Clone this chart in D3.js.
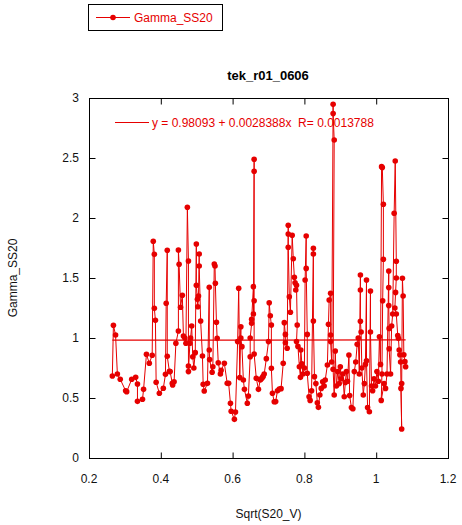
<!DOCTYPE html>
<html>
<head>
<meta charset="utf-8">
<script src="https://cdn.jsdelivr.net/npm/d3@7"></script>
<style>
  body { margin: 0; background: #fff; }
  svg { display: block; font-family: "Liberation Sans", Arial, sans-serif; }
</style>
</head>
<body>
<div id="chart"></div>
<script>
//~~~~~~~~~~~~~~~~~~~~~~~~~~~~~~~~~~~~
// Data (in plotting order)
//~~~~~~~~~~~~~~~~~~~~~~~~~~~~~~~~~~~~
const seriesName = "Gamma_SS20";
const chartTitle = "tek_r01_0606";
const xLabel = "Sqrt(S20_V)";
const yLabel = "Gamma_SS20";

const xValues = [
  0.265, 0.268, 0.274, 0.279, 0.287, 0.302, 0.305, 0.319, 0.330, 0.335,
  0.335, 0.349, 0.352, 0.360, 0.368, 0.376, 0.379, 0.382, 0.382, 0.385,
  0.387, 0.396, 0.407, 0.413, 0.415, 0.418, 0.418, 0.424, 0.426, 0.432,
  0.433, 0.437, 0.442, 0.449, 0.449, 0.451, 0.455, 0.460, 0.463, 0.467,
  0.470, 0.474, 0.477, 0.477, 0.477, 0.481, 0.483, 0.486, 0.489, 0.492,
  0.496, 0.499, 0.499, 0.502, 0.503, 0.505, 0.507, 0.507, 0.511, 0.516,
  0.518, 0.521, 0.530, 0.535, 0.535, 0.536, 0.543, 0.545, 0.549, 0.551,
  0.552, 0.555, 0.557, 0.560, 0.566, 0.568, 0.577, 0.585, 0.589, 0.594,
  0.596, 0.605, 0.608, 0.614, 0.617, 0.620, 0.623, 0.623, 0.626, 0.630,
  0.633, 0.641, 0.644, 0.649, 0.649, 0.653, 0.653, 0.658, 0.658, 0.660,
  0.660, 0.660, 0.660, 0.666, 0.672, 0.677, 0.680, 0.683, 0.685, 0.688,
  0.694, 0.700, 0.702, 0.705, 0.708, 0.708, 0.711, 0.716, 0.720, 0.725,
  0.730, 0.735, 0.741, 0.744, 0.747, 0.747, 0.752, 0.755, 0.755, 0.755,
  0.758, 0.761, 0.766, 0.769, 0.772, 0.774, 0.776, 0.778, 0.780, 0.778,
  0.782, 0.786, 0.789, 0.790, 0.793, 0.796, 0.800, 0.802, 0.805, 0.805,
  0.808, 0.808, 0.813, 0.816, 0.820, 0.825, 0.825, 0.825, 0.828, 0.832,
  0.836, 0.839, 0.843, 0.847, 0.851, 0.855, 0.858, 0.864, 0.867, 0.869,
  0.873, 0.873, 0.873, 0.876, 0.880, 0.880, 0.883, 0.880, 0.883, 0.886,
  0.889, 0.893, 0.897, 0.900, 0.903, 0.907, 0.911, 0.914, 0.917, 0.920,
  0.924, 0.926, 0.931, 0.935, 0.939, 0.943, 0.947, 0.950, 0.953, 0.956,
  0.956, 0.956, 0.958, 0.960, 0.964, 0.967, 0.970, 0.973, 0.973, 0.976,
  0.981, 0.984, 0.984, 0.987, 0.990, 0.994, 0.998, 1.002, 1.006, 1.009,
  1.012, 1.015, 1.017, 1.020, 1.020, 1.018, 1.016, 1.014, 1.022, 1.026,
  1.030, 1.035, 1.035, 1.035, 1.036, 1.036, 1.040, 1.043, 1.046, 1.050,
  1.053, 1.056, 1.056, 1.054, 1.052, 1.056, 1.060, 1.062, 1.064, 1.066,
  1.068, 1.071, 1.069, 1.071, 1.073, 1.075, 1.077, 1.080, 1.082
];

const yValues = [
  0.683, 1.106, 1.025, 0.700, 0.656, 0.561, 0.553, 0.656, 0.672, 0.617,
  0.472, 0.489, 0.572, 0.864, 0.789, 0.856, 1.806, 1.697, 1.247, 1.147,
  0.631, 0.539, 0.581, 0.697, 1.289, 1.731, 0.847, 0.722, 0.720, 0.622,
  0.608, 0.636, 0.956, 1.058, 1.733, 1.614, 1.256, 1.356, 1.017, 1.000,
  0.956, 2.089, 1.642, 0.767, 0.720, 0.956, 1.000, 1.100, 0.844, 0.750,
  0.878, 1.783, 1.440, 1.322, 1.260, 1.350, 1.700, 1.600, 1.142, 0.850,
  0.614, 0.558, 0.622, 1.422, 0.900, 0.820, 0.714, 0.760, 1.617, 1.600,
  1.456, 1.131, 0.997, 0.794, 0.700, 0.730, 0.789, 0.622, 0.622, 0.456,
  0.389, 0.322, 0.383, 0.970, 1.414, 0.670, 1.094, 1.000, 0.928, 0.650,
  0.572, 0.456, 0.517, 0.844, 1.000, 1.122, 1.156, 1.428, 1.200, 2.489,
  2.390, 1.310, 0.867, 0.664, 0.572, 0.650, 0.660, 0.670, 0.680, 0.700,
  0.828, 0.970, 1.294, 1.186, 1.108, 0.747, 0.539, 0.469, 0.470, 0.561,
  0.575, 0.578, 0.789, 1.128, 1.030, 0.960, 0.914, 1.939, 1.867, 1.756,
  1.344, 1.214, 1.856, 1.661, 1.506, 1.460, 1.400, 1.440, 1.108, 0.970,
  0.930, 0.761, 0.672, 0.900, 0.786, 0.700, 0.750, 1.483, 1.850, 1.580,
  1.030, 0.706, 0.511, 0.480, 0.560, 1.747, 1.700, 1.142, 0.678, 0.620,
  0.460, 0.422, 0.525, 0.580, 0.636, 0.600, 0.650, 0.775, 1.114, 1.317,
  1.372, 1.025, 0.970, 0.800, 2.947, 2.870, 2.650, 0.740, 0.525, 0.892,
  0.600, 0.720, 0.620, 0.760, 0.660, 0.700, 0.511, 0.630, 0.720, 0.640,
  0.858, 0.520, 0.420, 0.410, 0.720, 0.800, 0.947, 1.000, 0.700, 1.525,
  1.400, 1.140, 1.050, 0.750, 0.525, 0.620, 0.780, 1.483, 0.810, 0.420,
  0.386, 1.392, 1.050, 0.600, 0.560, 0.660, 0.600, 0.720, 0.640, 1.011,
  0.780, 2.428, 2.420, 2.114, 1.656, 1.310, 0.700, 0.480, 0.620, 0.580,
  0.700, 1.558, 1.420, 1.270, 1.080, 0.910, 0.700, 1.100, 1.200, 2.039,
  2.475, 1.640, 1.500, 1.380, 1.250, 1.200, 1.020, 0.997, 0.900, 0.860,
  0.800, 0.242, 0.580, 0.620, 1.497, 1.350, 0.860, 0.803, 0.760
];

// linear fit printed on the chart
const fitIntercept = 0.98093;
const fitSlope = 0.0028388;
const fitR = 0.0013788;

const xTicks = [0.2, 0.4, 0.6, 0.8, 1, 1.2];
const yTicks = [0, 0.5, 1, 1.5, 2, 2.5, 3];

//~~~~~~~~~~~~~~~~~~~~~~~~~~~~~~~~~~~~
// Chart
//~~~~~~~~~~~~~~~~~~~~~~~~~~~~~~~~~~~~
function drawChart() {
    const width = 462;
    const height = 525;
    const red = "#e60000";
    const plot = {left: 89, top: 98, right: 448, bottom: 458};

    const svg = d3.select("#chart")
        .append("svg")
        .attr("width", width)
        .attr("height", height);

    const x = d3.scaleLinear().domain([0.2, 1.2]).range([plot.left, plot.right]);
    const y = d3.scaleLinear().domain([0, 3]).range([plot.bottom, plot.top]);

    const data = xValues.map((v, i) => ({x: v, y: yValues[i]}));

    // frame with inward ticks on all four sides
    svg.append("rect")
        .attr("x", plot.left + 0.5)
        .attr("y", plot.top + 0.5)
        .attr("width", plot.right - plot.left)
        .attr("height", plot.bottom - plot.top)
        .attr("fill", "none")
        .attr("stroke", "#000");

    const tickLen = 6;
    const noLabels = () => "";
    svg.append("g").attr("transform", `translate(0,${plot.bottom + 0.5})`)
        .call(d3.axisTop(x).tickValues(xTicks).tickSize(tickLen).tickFormat(noLabels));
    svg.append("g").attr("transform", `translate(0,${plot.top + 0.5})`)
        .call(d3.axisBottom(x).tickValues(xTicks).tickSize(tickLen).tickFormat(noLabels));
    svg.append("g").attr("transform", `translate(${plot.left + 0.5},0)`)
        .call(d3.axisRight(y).tickValues(yTicks).tickSize(tickLen).tickFormat(noLabels));
    svg.append("g").attr("transform", `translate(${plot.right + 0.5},0)`)
        .call(d3.axisLeft(y).tickValues(yTicks).tickSize(tickLen).tickFormat(noLabels));
    svg.selectAll(".domain").remove();
    svg.selectAll(".tick line").attr("stroke", "#000");

    // tick labels
    svg.append("g").selectAll("text")
        .data(xTicks)
        .join("text")
        .attr("x", d => x(d))
        .attr("y", plot.bottom + 25)
        .attr("text-anchor", "middle")
        .attr("font-size", 12)
        .attr("fill", "#111")
        .text(d => d3.format("~g")(d));

    svg.append("g").selectAll("text")
        .data(yTicks)
        .join("text")
        .attr("x", plot.left - 10)
        .attr("y", d => y(d) + 4)
        .attr("text-anchor", "end")
        .attr("font-size", 12)
        .attr("fill", "#111")
        .text(d => d3.format("~g")(d));

    // axis titles + chart title
    svg.append("text")
        .attr("x", (plot.left + plot.right) / 2)
        .attr("y", 518)
        .attr("text-anchor", "middle")
        .attr("font-size", 12)
        .attr("fill", "#111")
        .text(xLabel);

    svg.append("text")
        .attr("transform", `translate(17,${(plot.top + plot.bottom) / 2}) rotate(-90)`)
        .attr("text-anchor", "middle")
        .attr("font-size", 12)
        .attr("fill", "#111")
        .text(yLabel);

    svg.append("text")
        .attr("x", 268)
        .attr("y", 80)
        .attr("text-anchor", "middle")
        .attr("font-size", 13)
        .attr("font-weight", "bold")
        .attr("fill", "#000")
        .text(chartTitle);

    // the series
    const line = d3.line().x(d => x(d.x)).y(d => y(d.y));
    svg.append("path")
        .datum(data)
        .attr("d", line)
        .attr("fill", "none")
        .attr("stroke", red)
        .attr("stroke-width", 1);

    svg.append("g").selectAll("circle")
        .data(data)
        .join("circle")
        .attr("cx", d => x(d.x))
        .attr("cy", d => y(d.y))
        .attr("r", 2.8)
        .attr("fill", red);

    // fit line across the data range
    const [xMin, xMax] = d3.extent(xValues);
    svg.append("line")
        .attr("x1", x(xMin))
        .attr("x2", x(xMax))
        .attr("y1", y(fitIntercept + fitSlope * xMin))
        .attr("y2", y(fitIntercept + fitSlope * xMax))
        .attr("stroke", red)
        .attr("stroke-width", 1.2);

    // fit label
    svg.append("line")
        .attr("x1", 115).attr("x2", 149)
        .attr("y1", 122.5).attr("y2", 122.5)
        .attr("stroke", red);
    svg.append("text")
        .attr("x", 152)
        .attr("y", 127)
        .attr("font-size", 12)
        .attr("fill", red)
        .attr("xml:space", "preserve")
        .text(`y = ${fitIntercept} + ${fitSlope}x  R= ${fitR}`);

    // legend
    svg.append("rect")
        .attr("x", 88.5).attr("y", 4.5)
        .attr("width", 134).attr("height", 26)
        .attr("fill", "#fff")
        .attr("stroke", "#000");
    svg.append("line")
        .attr("x1", 96).attr("x2", 130)
        .attr("y1", 17.5).attr("y2", 17.5)
        .attr("stroke", red);
    svg.append("circle")
        .attr("cx", 113).attr("cy", 17.5).attr("r", 2.8)
        .attr("fill", red);
    svg.append("text")
        .attr("x", 134).attr("y", 22)
        .attr("font-size", 12)
        .attr("fill", red)
        .text(seriesName);
}

document.addEventListener('DOMContentLoaded', () => {
    drawChart();
});
</script>
</body>
</html>
